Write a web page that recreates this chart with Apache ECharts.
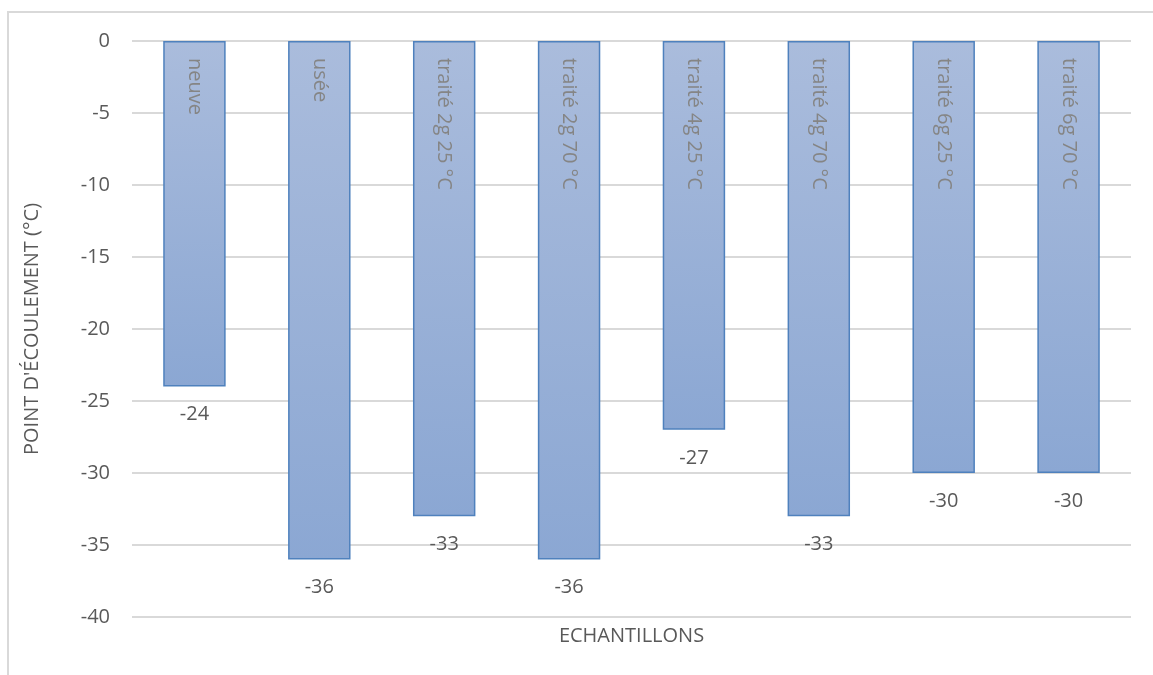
<!DOCTYPE html>
<html>
<head>
<meta charset="utf-8">
<script src="https://cdn.jsdelivr.net/npm/echarts@6/dist/echarts.min.js"></script>
<style>
  html, body { margin: 0; padding: 0; background: #fff; }
  #frame { position: absolute; left: 7px; top: 11px; width: 1146px; height: 664px;
           border-left: 2px solid #d9d9d9; border-top: 2px solid #d9d9d9; box-sizing: border-box; }
  #chart { position: absolute; left: 0; top: 0; width: 1153px; height: 675px; }
</style>
</head>
<body>
<div id="frame"></div>
<div id="chart"></div>
<script>
// Pour point of each oil sample
const categories = ['neuve', 'usée', 'traité 2g 25 °C', 'traité 2g 70 °C',
                    'traité 4g 25 °C', 'traité 4g 70 °C', 'traité 6g 25 °C', 'traité 6g 70 °C'];
const pourPoints = [-24, -36, -33, -36, -27, -33, -30, -30];
const yTicks = { min: -40, max: 0, interval: 5 };

const FONT = '"Open Sans", Lato, sans-serif';

const chart = echarts.init(document.getElementById('chart'), null, { renderer: 'canvas' });

chart.setOption({
  animation: false,
  backgroundColor: 'transparent',
  grid: { left: 132, right: 22, top: 41, bottom: 58, containLabel: false },
  xAxis: {
    type: 'category',
    data: categories,
    name: 'ECHANTILLONS',
    nameLocation: 'middle',
    nameGap: 9,
    nameTextStyle: { color: '#595959', fontSize: 20, fontFamily: FONT },
    axisLine: { show: false },
    axisTick: { show: false },
    axisLabel: { show: false }
  },
  yAxis: {
    type: 'value',
    min: yTicks.min,
    max: yTicks.max,
    interval: yTicks.interval,
    name: "POINT D'ÉCOULEMENT (°C)",
    nameLocation: 'middle',
    nameGap: 90,
    nameTextStyle: { color: '#595959', fontSize: 20, fontFamily: FONT },
    axisLine: { show: false },
    axisTick: { show: false },
    axisLabel: { color: '#595959', fontSize: 20, fontFamily: FONT, margin: 22 },
    splitLine: { lineStyle: { color: '#d9d9d9', width: 2 } }
  },
  series: [
    {
      // bars with the sample name written inside, top-down
      type: 'bar',
      data: pourPoints,
      barWidth: '50%',
      itemStyle: {
        color: new echarts.graphic.LinearGradient(0, 0, 0, 1, [
          { offset: 0, color: '#aabcdc' },
          { offset: 1, color: '#8ba7d3' }
        ]),
        borderColor: '#4f81bd',
        borderWidth: 1.5
      },
      label: {
        show: true,
        position: 'insideTop',
        distance: 17,
        rotate: -90,
        align: 'left',
        verticalAlign: 'middle',
        formatter: p => categories[p.dataIndex],
        color: '#858585',
        fontSize: 20,
        fontFamily: FONT
      }
    },
    {
      // transparent overlay carrying the value labels below each bar end
      type: 'bar',
      data: pourPoints,
      barWidth: '50%',
      barGap: '-100%',
      silent: true,
      itemStyle: { color: 'transparent' },
      label: {
        show: true,
        position: 'bottom',
        distance: 18,
        color: '#595959',
        fontSize: 20,
        fontFamily: FONT
      }
    }
  ]
});
</script>
</body>
</html>
